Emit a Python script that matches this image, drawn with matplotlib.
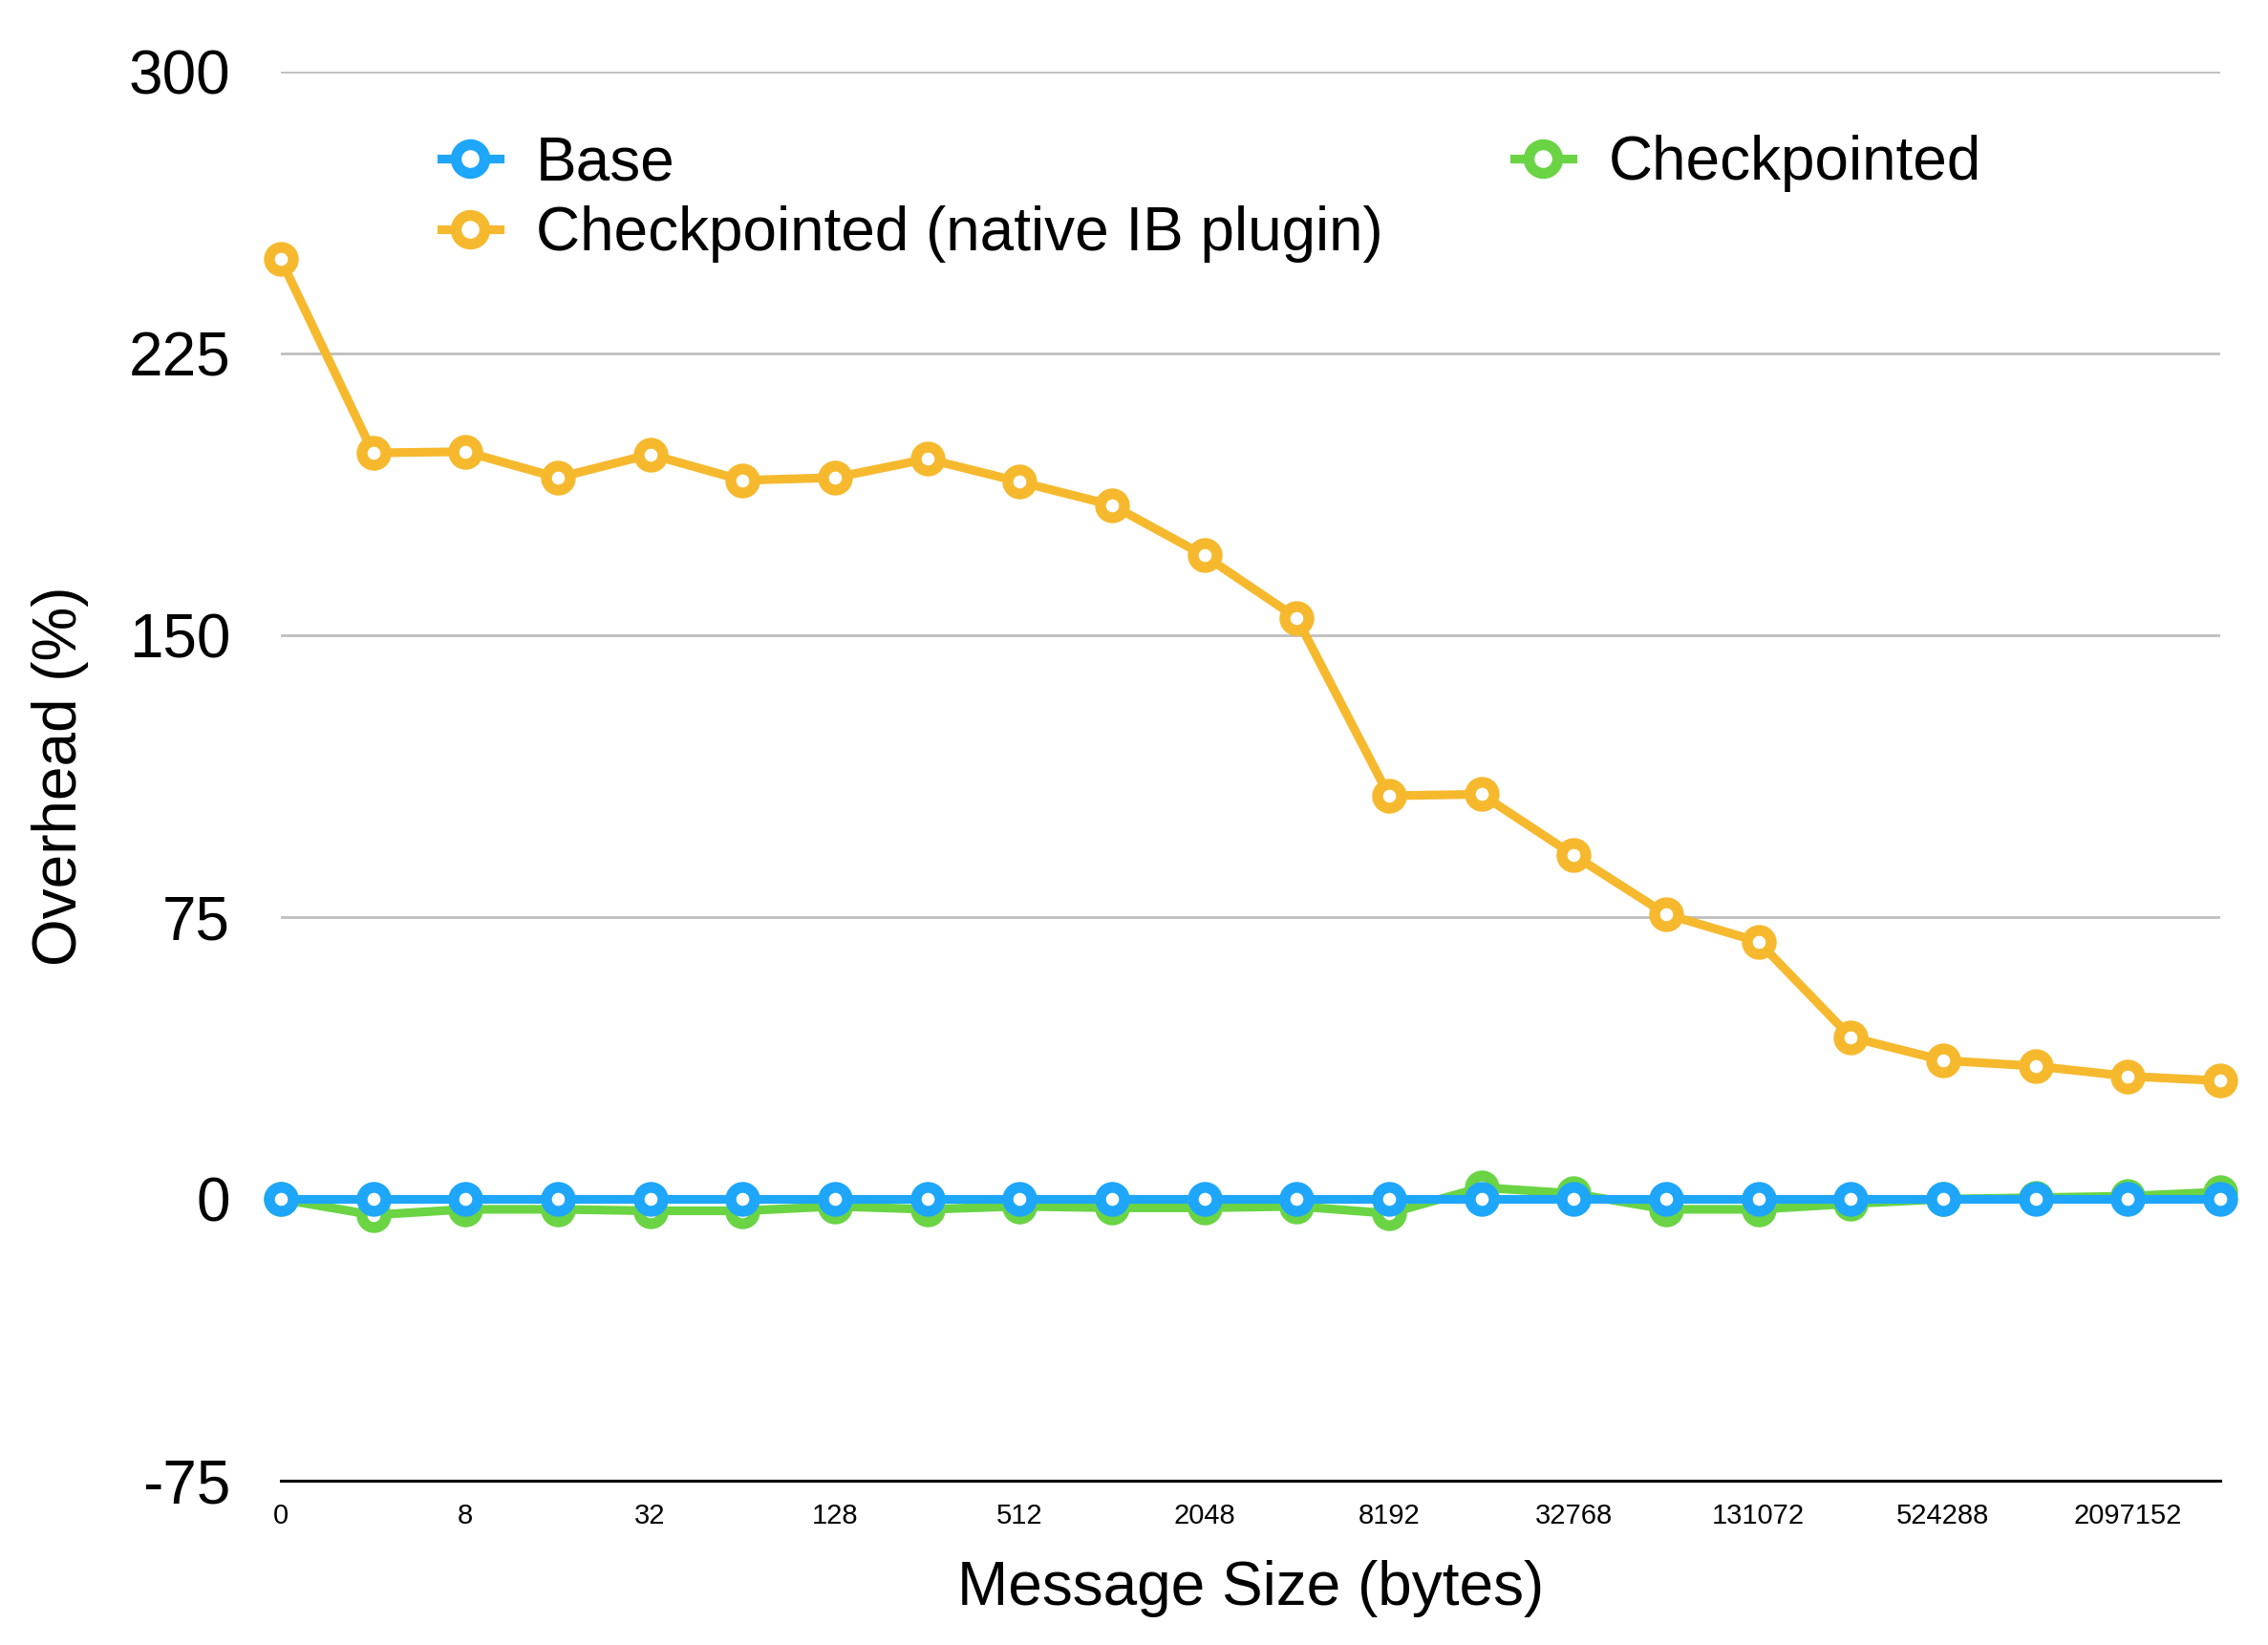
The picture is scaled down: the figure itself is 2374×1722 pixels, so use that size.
import matplotlib
matplotlib.use('Agg')
import matplotlib.pyplot as plt

plt.rcParams['font.family'] = ['Liberation Sans', 'DejaVu Sans']

# message sizes (bytes)
sizes = [0, 4, 8, 16, 32, 64, 128, 256, 512, 1024, 2048, 4096, 8192, 16384,
         32768, 65536, 131072, 262144, 524288, 1048576, 2097152, 4194304]
base = [0.0] * 22
native_ib = [250, 198.5, 198.8, 191.9, 198.1, 191.2, 191.9, 196.9, 190.8, 184.6,
             171.2, 154.6, 107.3, 107.7, 91.5, 75.8, 68.5, 43.1, 36.9, 35.4, 32.7, 31.5]
checkpointed = [0, -4.2, -2.7, -2.7, -3.1, -3.1, -1.9, -2.7, -1.9, -2.3, -2.3, -1.9,
                -3.8, 3.1, 1.5, -2.7, -2.7, -1.2, 0, 0.4, 0.8, 1.9]
yticks = [-75, 0, 75, 150, 225, 300]

blue = '#1EA6FB'
orange = '#F6B92E'
green = '#6AD444'

fig = plt.figure(figsize=(23.74, 17.22), dpi=100)
ax = fig.add_axes([0.1238, 0.0996, 0.8551, 0.8571])

x = list(range(len(sizes)))
style = dict(lw=6.6, marker='o', ms=18, mew=8.2, mfc='white', clip_on=False)
l_ck, = ax.plot(x, checkpointed, color=green, label='Checkpointed', zorder=3, **style)
l_ib, = ax.plot(x, native_ib, color=orange, label='Checkpointed (native IB plugin)', zorder=4, **style)
l_base, = ax.plot(x, base, color=blue, label='Base', zorder=5, **style)

ax.set_xlim(0, len(sizes) - 1)
ax.set_ylim(-75, 300)
ax.set_yticks(yticks)
ax.set_yticklabels([str(v) for v in yticks])
ax.set_xticks(x[::2])
ax.set_xticklabels([str(s) for s in sizes[::2]])
ax.yaxis.grid(True, color='#BEBEBE', lw=2)
ax.set_axisbelow(True)
for s in ['top', 'right', 'left']:
    ax.spines[s].set_visible(False)
ax.spines['bottom'].set_linewidth(2.2)
ax.spines['bottom'].set_zorder(2)
ax.tick_params(axis='y', length=0, labelsize=46, pad=38)
ax.tick_params(axis='x', length=0, labelsize=21, pad=16)

ax.set_xlabel('Message Size (bytes)', fontsize=46, labelpad=23)
ax.set_ylabel('Overhead (%)', fontsize=46, labelpad=30)

ax.legend(handles=[l_base, l_ib, l_ck], ncol=2, loc='upper left',
          bbox_to_anchor=(0.1946, 0.918), bbox_transform=fig.transFigure,
          frameon=False, fontsize=46, borderpad=0, borderaxespad=0,
          handlelength=0.95, handletextpad=0.6, columnspacing=2.15,
          labelspacing=0.22, markerscale=1.2)

fig.savefig('out.png', dpi=100)
